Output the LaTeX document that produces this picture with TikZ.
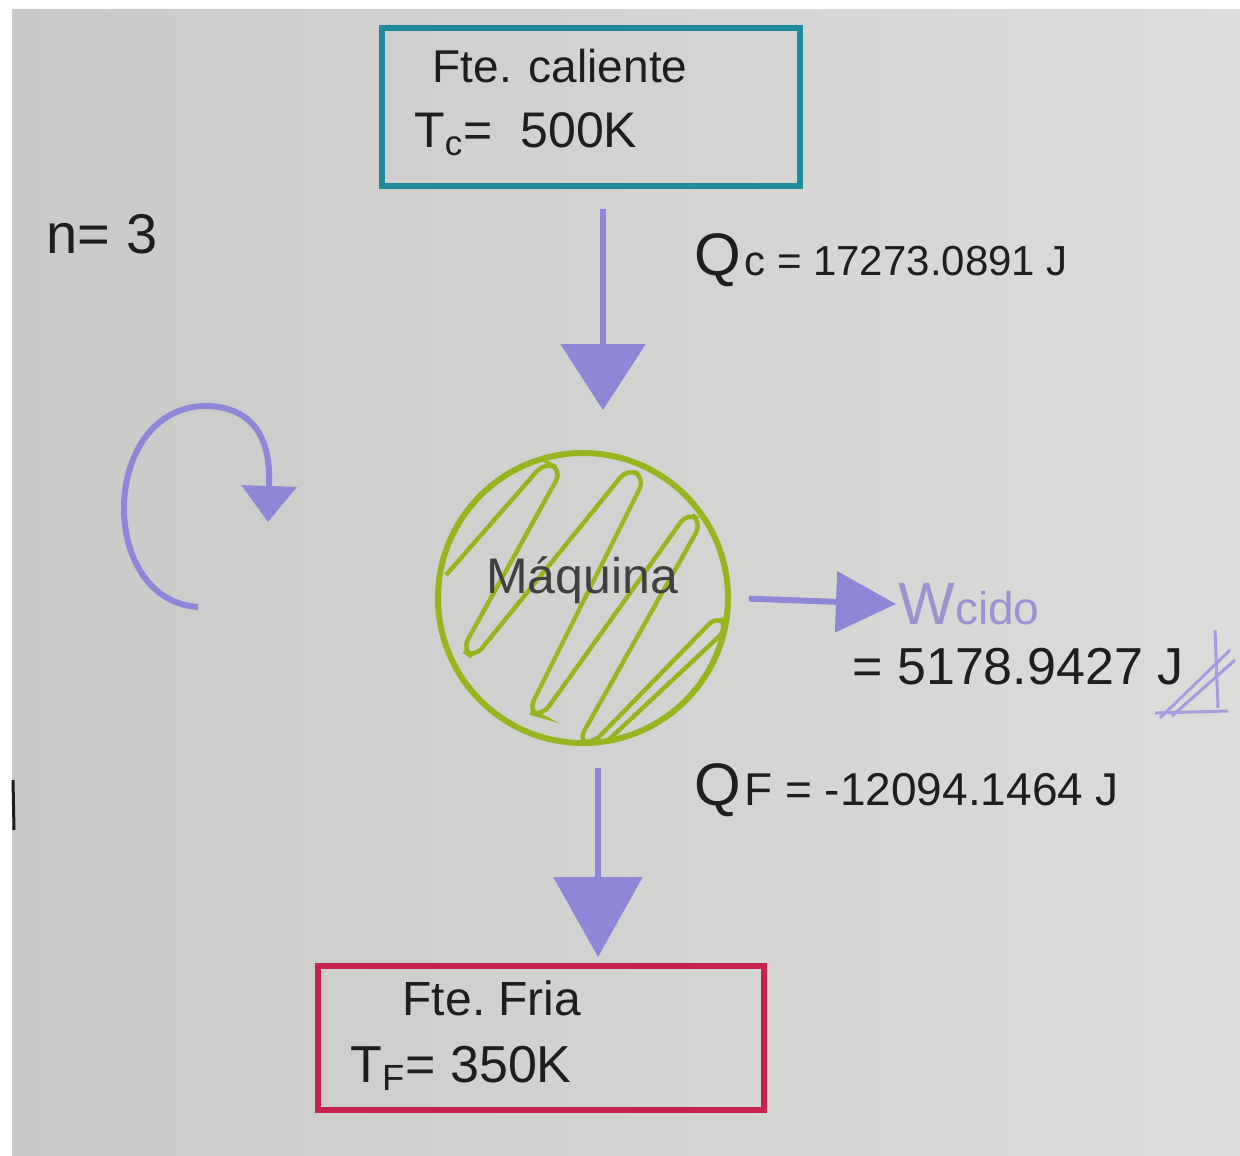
\documentclass[tikz,border=0pt]{standalone}
\usepackage{fontspec}
\setmainfont{Liberation Sans}
\usetikzlibrary{arrows.meta}
\definecolor{paperL}{HTML}{C9C9C7}
\definecolor{paperR}{HTML}{DCDCDA}
\definecolor{hotc}{HTML}{1E8A9C}
\definecolor{coldc}{HTML}{C8234E}
\definecolor{lav}{HTML}{8E86D6}
\definecolor{lavtxt}{HTML}{9A94CE}
\definecolor{olive}{HTML}{96B51E}
\definecolor{ink}{HTML}{1E1E1E}
\tikzset{
  box/.style={draw, line width=3pt, minimum width=#1, inner sep=0pt},
  txt/.style={text=ink, inner sep=1pt},
  flow/.style={draw=lav, line width=3pt},
  engine/.style={circle, draw=olive, line width=3pt, minimum size=145pt, inner sep=0pt},
}
\begin{document}
\begin{tikzpicture}[x=0.5pt,y=-0.5pt]
\useasboundingbox (0,0) rectangle (1240,1155);
\fill[white] (0,0) rectangle (1240,1155);
\shade[left color=paperL, right color=paperR] (12,10) rectangle (1240,1155);
\draw[ink, line width=1.5pt] (13,780) -- (14,830);

% hot reservoir
\node[box=209pt, draw=hotc, minimum height=79pt] (hot) at (591,107) {};
\node[txt, font=\fontsize{23}{26}\selectfont] (hott1) at (560,66) {Fte. caliente};
\node[txt, font=\fontsize{25}{28}\selectfont, anchor=west] (hott2) at (412,134) {T\textsubscript{c}=\ \ 500K};

% cold reservoir
\node[box=223pt, draw=coldc, minimum height=72pt] (cold) at (541,1038) {};
\node[txt, font=\fontsize{24}{26}\selectfont] (coldt1) at (492,998) {Fte.\ Fria};
\node[txt, font=\fontsize{26}{28}\selectfont, anchor=west] (coldt2) at (348,1068) {T\textsubscript{F}= 350K};

% engine
\node[engine] (eng) at (583,598) {};
\begin{scope}
\clip (583,598) circle[radius=143];
\draw[olive, line width=2.2pt, rounded corners=6pt] (446,575) -- (545,462) -- (562,470)
  -- (462,650) -- (474,658) -- (628,468) -- (645,478) -- (528,712) -- (542,716)
  -- (688,512) -- (702,522) -- (578,742) -- (592,744) -- (718,615) -- (728,628) -- (587,760);
\end{scope}
\node[txt, text=ink!85, font=\fontsize{25}{28}\selectfont] (engt) at (582,580) {Máquina};

% labels
\node[txt, font=\fontsize{28}{30}\selectfont] (n) at (102,234) {n= 3};
\node[txt, anchor=west] (qc) at (692,260) {{\fontsize{30}{32}\selectfont Q}\,{\fontsize{21}{24}\selectfont c = 17273.0891 J}};
\node[txt, anchor=west] (qf) at (692,790) {{\fontsize{30}{32}\selectfont Q}\,{\fontsize{23}{26}\selectfont F = -12094.1464 J}};
\node[inner sep=1pt, text=lavtxt, anchor=west] (w) at (896,604) {{\fontsize{30}{32}\selectfont W}{\fontsize{23}{26}\selectfont cido}};
\node[txt, anchor=west, font=\fontsize{26}{28}\selectfont] (wv) at (850,667) {= 5178.9427 J};
% check marks
\draw[lav!80, line width=1.5pt] (1155,713) -- (1228,711);
\draw[lav!80, line width=1.5pt] (1160,718) -- (1230,650);
\draw[lav!80, line width=1.5pt] (1172,716) -- (1235,660);
\draw[lav!80, line width=1.5pt] (1215,630) -- (1218,708);

% flows
\draw[flow, -{Triangle[width=42pt,length=33pt]}, shorten <=10pt, shorten >=20pt]
  ([xshift=6pt]hot.south) -- ([xshift=10pt]eng.north);
\draw[flow, -{Triangle[width=30pt,length=30pt]}, shorten <=9pt]
  (eng.east) -- (w.west);
\draw[flow, -{Triangle[width=44pt,length=40pt]}, shorten <=11pt, shorten >=3pt]
  ([xshift=7.5pt]eng.south) -- ([xshift=28.5pt]cold.north);
% cycle arrow
\draw[flow, -{Triangle[width=27pt,length=18pt]}]
  (198,607) .. controls (95,600) and (100,402) .. (210,406)
  .. controls (268,410) and (270,460) .. (268,522);
\end{tikzpicture}
\end{document}
